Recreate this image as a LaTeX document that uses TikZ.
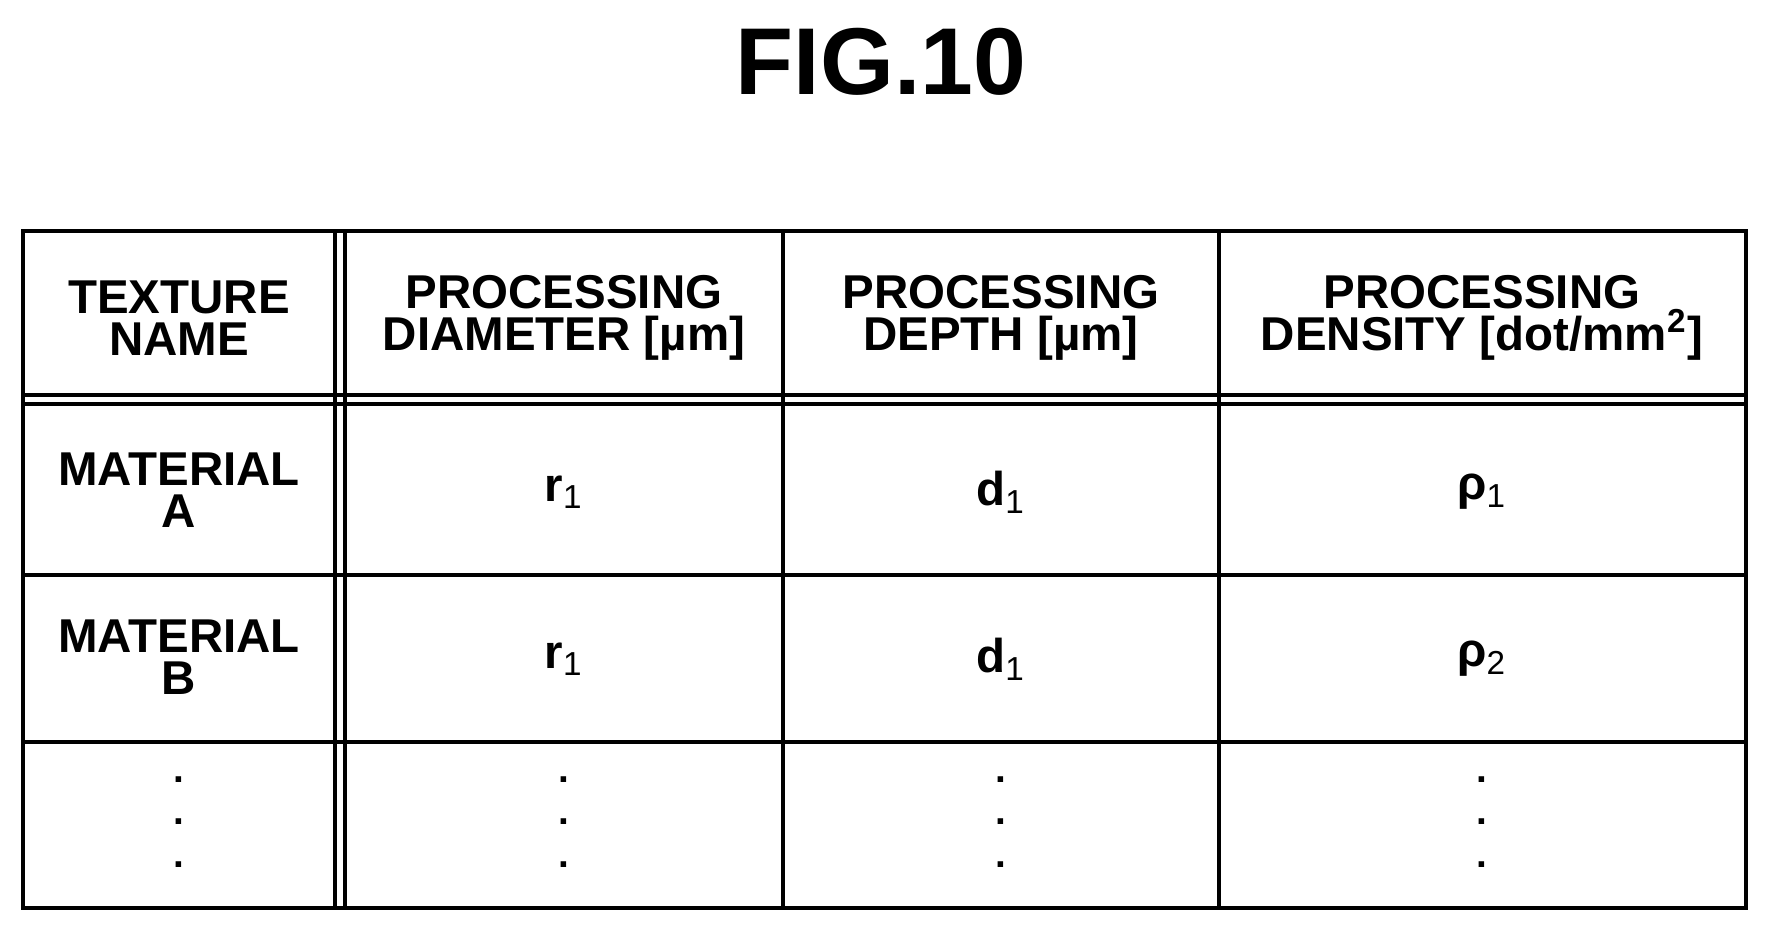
\documentclass[tikz,border=0pt]{standalone}
\usepackage{fontspec}
\setmainfont{Liberation Sans}
\usetikzlibrary{positioning}
\tikzset{cell/.style={font=\fontsize{13.5}{12}\selectfont\bfseries,align=center}}
\tikzset{vdots/.style={font=\fontsize{11}{12}\selectfont\bfseries,align=center}}
\tikzset{rule/.style={line width=1.1pt}}
\newcommand{\sub}[1]{\textsubscript{\mdseries #1}}
\begin{document}
\begin{tikzpicture}[x=0.01cm,y=-0.01cm]
\useasboundingbox (0,0) rectangle (1769,932);
\node[font=\fontsize{27}{27}\selectfont\bfseries] (title) at (881,62) {FIG.10};
% frame and rules
\draw[rule] (23,231) rectangle (1746,908);
\draw[rule] (23,395) -- (1746,395);
\draw[rule] (23,404) -- (1746,404);
\draw[rule] (23,575) -- (1746,575);
\draw[rule] (23,742) -- (1746,742);
\draw[rule] (335,231) -- (335,908);
\draw[rule] (345,231) -- (345,908);
\draw[rule] (783,231) -- (783,908);
\draw[rule] (1219,231) -- (1219,908);
% header
\node[cell] (h1) at (179,318) {TEXTURE\\NAME};
\node[cell] (h2) at (564,318) {PROCESSING\\DIAMETER [µm]};
\node[cell] (h3) at (1001,318) {PROCESSING\\DEPTH [µm]};
\node[cell] (h4) at (1482,318) {PROCESSING\\DENSITY [dot/mm\textsuperscript{2}]};
% rows
\node[cell] (a1) at (179,490) {MATERIAL\\A};
\node[cell] (a2) at (564,492) {r\sub{1}};
\node[cell] (a3) at (1001,492) {d\sub{1}};
\node[cell] (a4) at (1482,492) {ρ\sub{1}};
\node[cell] (b1) at (179,657) {MATERIAL\\B};
\node[cell] (b2) at (564,659) {r\sub{1}};
\node[cell] (b3) at (1001,659) {d\sub{1}};
\node[cell] (b4) at (1482,659) {ρ\sub{2}};
\foreach \x/\n in {179/1,564/2,1001/3,1482/4}
  \node[vdots] (c\n) at (\x,822) {.\\.\\.};
\end{tikzpicture}
\end{document}
